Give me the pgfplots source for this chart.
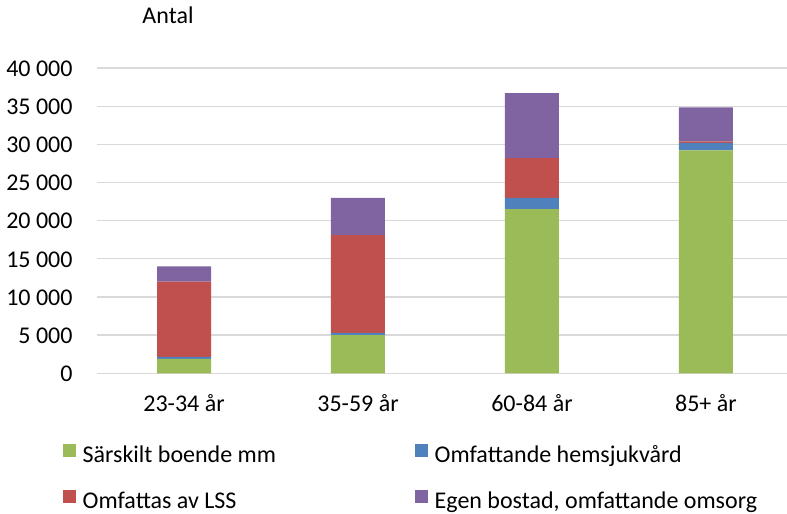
\documentclass[border=0pt]{standalone}
\usepackage{pgfplots}
\pgfplotsset{compat=1.18}
\usepackage{fontspec}
\setmainfont{Carlito}

\definecolor{cGreen}{HTML}{9BBB59}
\definecolor{cBlue}{HTML}{4F81BD}
\definecolor{cRed}{HTML}{C0504D}
\definecolor{cPurple}{HTML}{8064A2}
\definecolor{cGrid}{HTML}{D9D9D9}

\pgfplotsset{sqlegend/.style={legend image code/.code={\fill[##1] (0bp,0bp) rectangle (13bp,13bp);}}}

\begin{document}
\fontsize{24bp}{28bp}\selectfont
\begin{tikzpicture}
\begin{axis}[
    at={(0,0)}, anchor=south west,
    scale only axis, width=690.3bp, height=305.3bp,
    ybar stacked, bar width=54bp,
    xmin=-0.502, xmax=3.466, ymin=0, ymax=40000,
    xtick={0,1,2,3},
    xticklabels={23-34 år, 35-59 år, 60-84 år, 85+ år},
    ytick={0,5000,...,40000},
    scaled y ticks=false,
    /pgf/number format/assume math mode=true,
    /pgf/number format/1000 sep={\ },
    major tick length=0pt,
    axis line style={draw=none},
    ymajorgrids, grid style={cGrid, line width=1.3bp},
    tick label style={font=\fontsize{24bp}{28bp}\selectfont, inner sep=0pt},
    xticklabel style={anchor=base, yshift=-38.4bp},
    yticklabel style={anchor=base east, xshift=-24bp, yshift=-8.3bp},
    legend columns=2,
    legend cell align=left,
    legend style={at={(axis description cs:-0.04882,-0.2326)}, anchor=north west,
        draw=none, fill=none, inner sep=0pt, outer sep=0pt,
        font=\fontsize{24bp}{28bp}\selectfont,
        nodes={inner sep=0pt, text height=17bp, text depth=6bp},
        row sep=21.5bp,
        /tikz/every odd column/.append style={column sep=6.7bp},
        /tikz/every even column/.append style={column sep=12.3bp}},
]
\addplot[fill=cGreen, draw=none, sqlegend] coordinates {(0,1900) (1,5000) (2,21500) (3,29200)};
\addlegendentry{\makebox[320bp][l]{Särskilt boende mm}}
\addplot[fill=cBlue, draw=none, sqlegend] coordinates {(0,250) (1,300) (2,1500) (3,1000)};
\addlegendentry{Omfattande hemsjukvård}
\addplot[fill=cRed, draw=none, sqlegend] coordinates {(0,9850) (1,12800) (2,5200) (3,200)};
\addlegendentry{\makebox[320bp][l]{Omfattas av LSS}}
\addplot[fill=cPurple, draw=none, sqlegend] coordinates {(0,2000) (1,4900) (2,8500) (3,4450)};
\addlegendentry{Egen bostad, omfattande omsorg}
\end{axis}
\node[anchor=base, inner sep=0pt] at (71.3bp,349.5bp) {Antal};
\pgfresetboundingbox
\path (-96.7bp,-140.7bp) rectangle (690.3bp,373.3bp);
\end{tikzpicture}
\end{document}
